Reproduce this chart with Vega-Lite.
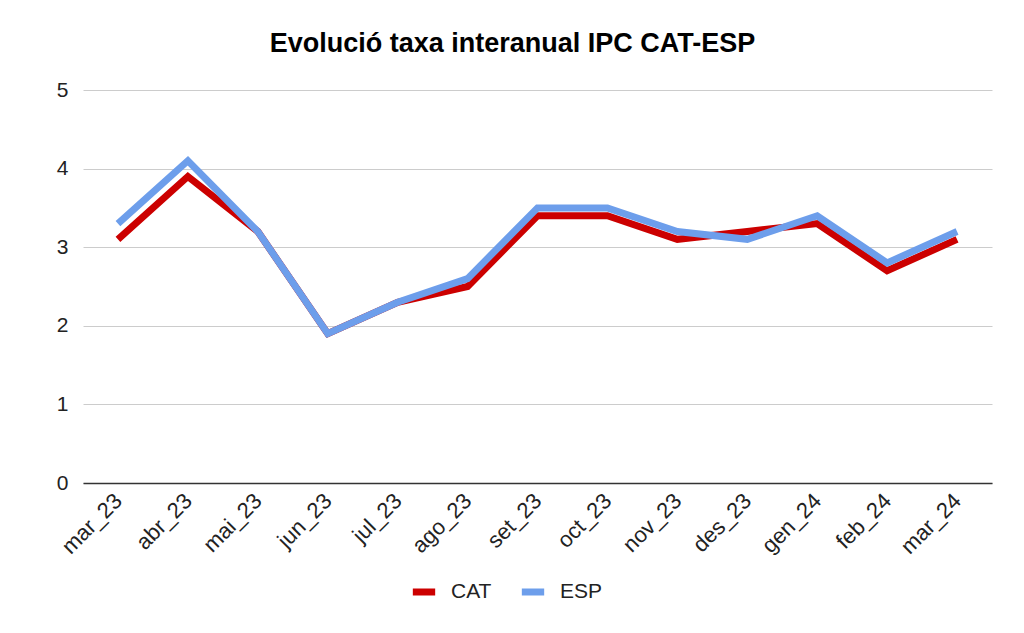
{
  "$schema": "https://vega.github.io/schema/vega-lite/v6.json",
  "width": 909,
  "height": 393,
  "autosize": {"type": "none"},
  "padding": {"left": 83, "top": 90, "right": 32, "bottom": 150},
  "background": "#ffffff",
  "title": {
    "text": "Evolució taxa interanual IPC CAT-ESP",
    "font": "Liberation Sans",
    "fontSize": 27,
    "fontWeight": "bold",
    "color": "#000000",
    "anchor": "middle",
    "dx": -25,
    "offset": 21
  },
  "config": {
    "view": {"stroke": null},
    "font": "Liberation Sans"
  },
  "data": {
    "values": [
      {"mes": "mar_23", "serie": "CAT", "taxa": 3.1},
      {"mes": "abr_23", "serie": "CAT", "taxa": 3.9},
      {"mes": "mai_23", "serie": "CAT", "taxa": 3.2},
      {"mes": "jun_23", "serie": "CAT", "taxa": 1.9},
      {"mes": "jul_23", "serie": "CAT", "taxa": 2.3},
      {"mes": "ago_23", "serie": "CAT", "taxa": 2.5},
      {"mes": "set_23", "serie": "CAT", "taxa": 3.4},
      {"mes": "oct_23", "serie": "CAT", "taxa": 3.4},
      {"mes": "nov_23", "serie": "CAT", "taxa": 3.1},
      {"mes": "des_23", "serie": "CAT", "taxa": 3.2},
      {"mes": "gen_24", "serie": "CAT", "taxa": 3.3},
      {"mes": "feb_24", "serie": "CAT", "taxa": 2.7},
      {"mes": "mar_24", "serie": "CAT", "taxa": 3.1},
      {"mes": "mar_23", "serie": "ESP", "taxa": 3.3},
      {"mes": "abr_23", "serie": "ESP", "taxa": 4.1},
      {"mes": "mai_23", "serie": "ESP", "taxa": 3.2},
      {"mes": "jun_23", "serie": "ESP", "taxa": 1.9},
      {"mes": "jul_23", "serie": "ESP", "taxa": 2.3},
      {"mes": "ago_23", "serie": "ESP", "taxa": 2.6},
      {"mes": "set_23", "serie": "ESP", "taxa": 3.5},
      {"mes": "oct_23", "serie": "ESP", "taxa": 3.5},
      {"mes": "nov_23", "serie": "ESP", "taxa": 3.2},
      {"mes": "des_23", "serie": "ESP", "taxa": 3.1},
      {"mes": "gen_24", "serie": "ESP", "taxa": 3.4},
      {"mes": "feb_24", "serie": "ESP", "taxa": 2.8},
      {"mes": "mar_24", "serie": "ESP", "taxa": 3.2}
    ]
  },
  "mark": {"type": "line", "strokeWidth": 7, "strokeJoin": "miter", "strokeCap": "butt"},
  "encoding": {
    "x": {
      "field": "mes",
      "type": "ordinal",
      "sort": null,
      "scale": {"type": "point", "padding": 0.5},
      "axis": {
        "title": null,
        "labelAngle": -45,
        "labelAlign": "right",
        "labelBaseline": "middle",
        "labelFontSize": 22,
        "labelColor": "#222222",
        "labelPadding": 14,
        "ticks": false,
        "domainColor": "#333333",
        "domainWidth": 1.5,
        "grid": false
      }
    },
    "y": {
      "field": "taxa",
      "type": "quantitative",
      "scale": {"domain": [0, 5], "nice": false},
      "axis": {
        "title": null,
        "values": [0, 1, 2, 3, 4, 5],
        "labelFontSize": 21,
        "labelColor": "#222222",
        "labelPadding": 15,
        "ticks": false,
        "domain": false,
        "gridColor": "#cccccc",
        "gridWidth": 1
      }
    },
    "color": {
      "field": "serie",
      "type": "nominal",
      "scale": {"domain": ["CAT", "ESP"], "range": ["#cc0000", "#6d9eeb"]},
      "legend": {
        "title": null,
        "orient": "none",
        "direction": "horizontal",
        "legendX": 326,
        "legendY": 487,
        "symbolType": "stroke",
        "symbolStrokeWidth": 7,
        "symbolSize": 500,
        "labelFontSize": 21,
        "labelColor": "#222222",
        "columnPadding": 15,
        "labelOffset": 12
      }
    }
  }
}
